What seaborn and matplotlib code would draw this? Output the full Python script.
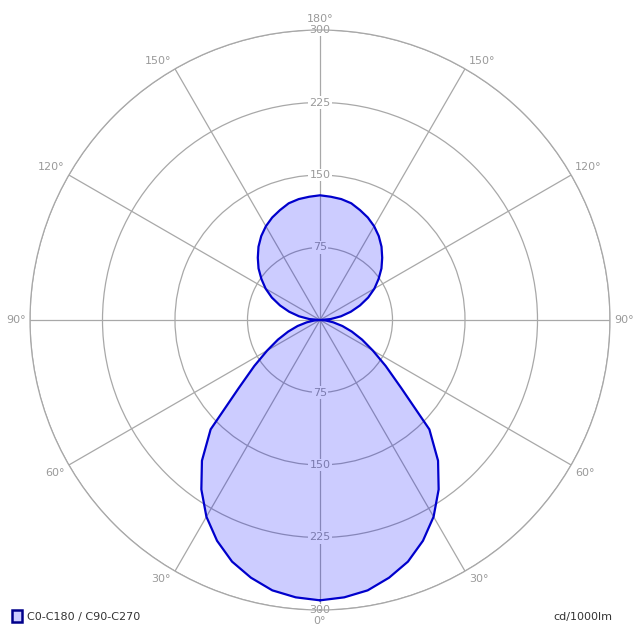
#!/usr/bin/env python3
"""Polar light distribution curve (C0-C180 / C90-C270) redrawn with seaborn."""
import matplotlib
matplotlib.use("Agg")
import matplotlib.pyplot as plt
from matplotlib.patches import Patch
import numpy as np
import seaborn as sns

# gamma angles (deg, 0 = straight down, 180 = straight up)
gamma = [0, 5, 10, 15, 20, 25, 30, 35, 40, 45, 50, 55, 60, 65, 70, 75, 80, 85, 90,
         95, 100, 105, 110, 115, 120, 125, 130, 135, 140, 145, 150, 155, 160, 165,
         170, 175, 180]
# luminous intensity, cd/1000lm (same in both half planes)
intensity = [290, 288, 284, 276, 266, 252, 235, 214, 190, 160, 110, 83, 63, 48, 35,
             24, 14, 6, 0,
             11, 22, 33, 44, 55, 65, 74, 83, 91, 99, 106, 112, 117, 121, 125, 127,
             128, 129]
ring_values = [75, 150, 225, 300]
angle_ticks = [0, 30, 60, 90, 120, 150, 180, 210, 240, 270, 300, 330]
angle_labels = ["0°", "30°", "60°", "90°", "120°", "150°", "180°",
                "150°", "120°", "90°", "60°", "30°"]
legend_label = "C0-C180 / C90-C270"
unit_label = "cd/1000lm"

sns.set_style("white")
plt.rcParams["font.family"] = ["DejaVu Sans"]

GRID = "#a8a8a8"
TXT = "#9a9a9a"
LINE = "#0000cc"

# full curve: one half plane, then mirrored back for the other half
theta_deg = np.array(gamma + [360 - g for g in gamma[::-1]], dtype=float)
r_full = np.array(intensity + intensity[::-1], dtype=float)
theta = np.deg2rad(theta_deg)

fig = plt.figure(figsize=(6.4, 6.4), dpi=100)
ax = fig.add_axes([30 / 640, 30 / 640, 580 / 640, 580 / 640], projection="polar")
ax.set_theta_zero_location("S")
ax.set_theta_direction(1)
ax.set_ylim(0, 300)
ax.set_axisbelow(True)

ax.set_rgrids(ring_values, labels=[""] * len(ring_values))
ax.set_thetagrids(angle_ticks, labels=[""] * len(angle_ticks))
ax.grid(True, color=GRID, linewidth=0.9)
ax.spines["polar"].set_color(GRID)
ax.spines["polar"].set_linewidth(0.9)

# ring labels on the vertical axis, top and bottom
for v in ring_values:
    for t in (0, np.pi):
        ax.text(t, v, str(v), ha="center", va="center", fontsize=8, color=TXT,
                zorder=1,
                bbox=dict(boxstyle="square,pad=0.12", fc="white", ec="none"))

# angle labels sit just outside the end of each spoke
for a, lab in zip(angle_ticks, angle_labels):
    sx = np.sin(np.deg2rad(a))  # screen x direction (theta runs ccw from bottom)
    sy = -np.cos(np.deg2rad(a))
    if abs(sx) < 1e-6:
        ha, dx = "center", 0
    elif sx > 0:
        ha, dx = "left", 3
    else:
        ha, dx = "right", -3
    if abs(sy) < 1e-6:
        va, dy = "center", 0
    elif sy > 0:
        va, dy = "bottom", 2 if abs(sx) > 1e-6 else 4
    else:
        va, dy = "top", -2 if abs(sx) > 1e-6 else -4
    ax.annotate(lab, xy=(np.deg2rad(a), 300), xytext=(dx, dy),
                textcoords="offset points", ha=ha, va=va, fontsize=8,
                color=TXT, annotation_clip=False)

ax.fill(theta, r_full, color="#0000ff", alpha=0.2, lw=0, zorder=2)
sns.lineplot(x=theta, y=r_full, sort=False, color=LINE, linewidth=1.6, ax=ax,
             zorder=3)
ax.set_xlabel("")
ax.set_ylabel("")

handle = Patch(facecolor="#ccccff", edgecolor="#00008b", linewidth=1.8)
fig.legend(handles=[handle], labels=[legend_label], loc="center left",
           bbox_to_anchor=(0.003, 1 - 616 / 640), frameon=False, fontsize=8,
           handlelength=0.9, handleheight=1.3, handletextpad=0.5,
           labelcolor="#333333")
fig.text(0.957, 1 - 617 / 640, unit_label, ha="right", va="center", fontsize=8,
         color="#333333")

fig.savefig("out.png", dpi=100, facecolor="white")
